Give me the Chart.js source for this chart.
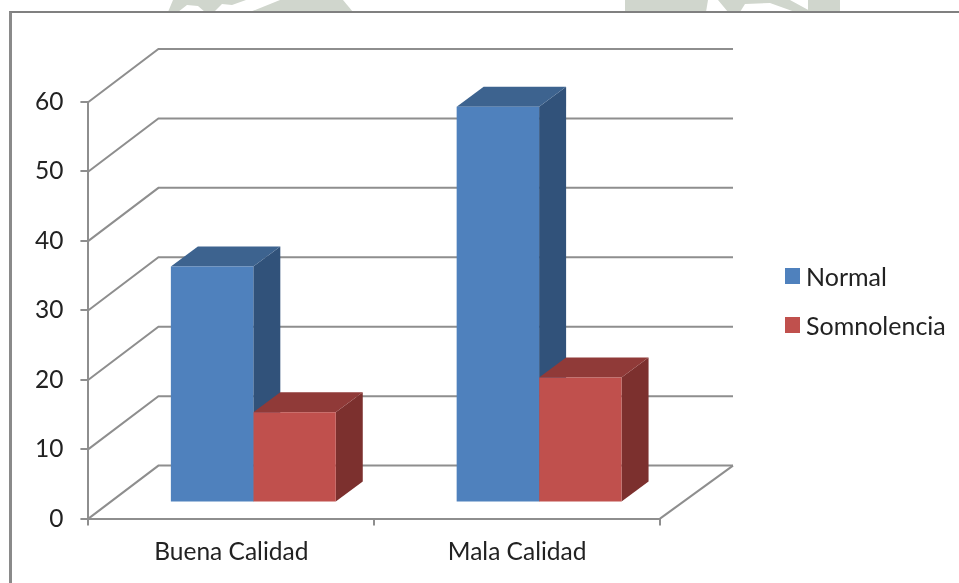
<!DOCTYPE html>
<html>
<head>
<meta charset="utf-8">
<title>Calidad de sueño</title>
<style>
html, body { margin: 0; padding: 0; background: #fff; overflow: hidden; }
#page { position: relative; width: 959px; height: 583px; overflow: hidden; }
#stamp { position: absolute; left: 0; top: 0; }
#frame {
  position: absolute; left: 9px; top: 11px; width: 960px; height: 580px;
  background: #fff; border-left: 3px solid #8a8a8a; border-top: 2px solid #808080;
}
canvas { position: absolute; left: 0; top: 0; }
.key { position: absolute; left: 785px; font: 25px Lato, sans-serif; color: #222; line-height: 30px; white-space: nowrap; }
.key i { position: absolute; left: 0; top: 7px; width: 15px; height: 16px; }
.key span { margin-left: 21px; }
</style>
</head>
<body>
<div id="page">
  <svg id="stamp" width="959" height="12" fill="#d0d6cd">
    <polygon points="173,0 246,0 232,5 222,4 214,12 205,12 198,6 187,5 178,12 168,12"/>
    <polygon points="280,0 343,0 353,12 250,12"/>
    <polygon points="625,0 708,0 706,12 625,12"/>
    <polygon points="718,0 790,0 812,12 795,12 770,3 745,4 740,12 728,12"/>
    <polygon points="808,0 840,0 840,12 808,12"/>
  </svg>
  <div id="frame"></div>
  <canvas id="sleepChart" width="959" height="583"></canvas>
  <div id="legend"></div>
</div>

<script src="https://cdn.jsdelivr.net/npm/chart.js"></script>
<script>
  const categories = ["Buena Calidad", "Mala Calidad"];
  const seriesNames = ["Normal", "Somnolencia"];
  const normal = [34, 57];
  const somnolencia = [13, 18];

  const seriesColors = ["#4f81bd", "#c0504d"];
  const legendTops = [261, 310];
  const axisGray = "#8e8e8e";
  const textColor = "#222";

  // offsets of the 3D box: where the bars stand and how far the back wall sits
  const barPlane = { x: 22, y: -16 };
  const barDepth = { x: 27, y: -20 };
  const wallDepth = { x: 73, y: -53 };

  const faceColors = [
    { top: "#3d638f", side: "#31527a" },
    { top: "#903a38", side: "#7c302e" }
  ];

  function fillPoly(ctx, color, pts) {
    ctx.fillStyle = color;
    ctx.beginPath();
    pts.forEach((p, i) => (i ? ctx.lineTo(p[0], p[1]) : ctx.moveTo(p[0], p[1])));
    ctx.closePath();
    ctx.fill();
  }

  const box3d = {
    id: "box3d",
    beforeDatasetsDraw(chart) {
      const { ctx, chartArea, scales } = chart;
      ctx.save();

      // back wall lines
      ctx.strokeStyle = axisGray;
      ctx.lineWidth = 2;
      scales.y.ticks.forEach((t) => {
        const y = scales.y.getPixelForValue(t.value);
        ctx.beginPath();
        ctx.moveTo(chartArea.left, y);
        ctx.lineTo(chartArea.left + wallDepth.x - 3, y + wallDepth.y);
        ctx.lineTo(chartArea.right + wallDepth.x, y + wallDepth.y);
        ctx.stroke();
      });
      ctx.beginPath();
      ctx.moveTo(chartArea.right, chartArea.bottom);
      ctx.lineTo(chartArea.right + wallDepth.x, chartArea.bottom + wallDepth.y);
      ctx.stroke();

      ctx.translate(barPlane.x, barPlane.y);

      // top and side faces, blue first so the red ones overlap it
      chart.data.datasets.forEach((ds, i) => {
        chart.getDatasetMeta(i).data.forEach((bar) => {
          const l = bar.x - bar.width / 2;
          const r = bar.x + bar.width / 2;
          const dx = barDepth.x;
          const dy = barDepth.y;
          fillPoly(ctx, faceColors[i].side, [[r, bar.y], [r + dx, bar.y + dy], [r + dx, bar.base + dy], [r, bar.base]]);
          fillPoly(ctx, faceColors[i].top, [[l, bar.y], [l + dx, bar.y + dy], [r + dx, bar.y + dy], [r, bar.y]]);
        });
      });
      // stays translated while the library paints the front faces
    },
    afterDatasetsDraw(chart) {
      chart.ctx.restore();
    }
  };

  new Chart(document.getElementById("sleepChart"), {
    type: "bar",
    data: {
      labels: categories,
      datasets: [
        { label: seriesNames[0], data: normal, backgroundColor: seriesColors[0], clip: false },
        { label: seriesNames[1], data: somnolencia, backgroundColor: seriesColors[1], clip: false }
      ]
    },
    plugins: [box3d],
    options: {
      responsive: false,
      animation: false,
      layout: { padding: { left: 18, right: 299, top: 102, bottom: 4 } },
      categoryPercentage: 0.577,
      barPercentage: 1,
      plugins: {
        tooltip: { enabled: false },
        legend: { display: false }
      },
      scales: {
        x: {
          grid: { drawOnChartArea: false, tickLength: 7, color: axisGray, lineWidth: 2 },
          border: { color: axisGray, width: 2 },
          ticks: { color: textColor, font: { family: "Lato", size: 24.5 }, padding: 12, maxRotation: 0 }
        },
        y: {
          min: 0,
          max: 60,
          grid: { drawOnChartArea: false, tickLength: 8, color: axisGray, lineWidth: 2 },
          border: { color: axisGray, width: 2 },
          ticks: { stepSize: 10, color: textColor, font: { family: "Lato", size: 24.5 }, padding: 17 }
        }
      }
    }
  });

  // legend as plain markup, placed beside the plot
  document.getElementById("legend").innerHTML = seriesNames.map((name, i) =>
    `<div class="key" style="top:${legendTops[i]}px"><i style="background:${seriesColors[i]}"></i><span>${name}</span></div>`
  ).join("");
</script>
</body>
</html>
